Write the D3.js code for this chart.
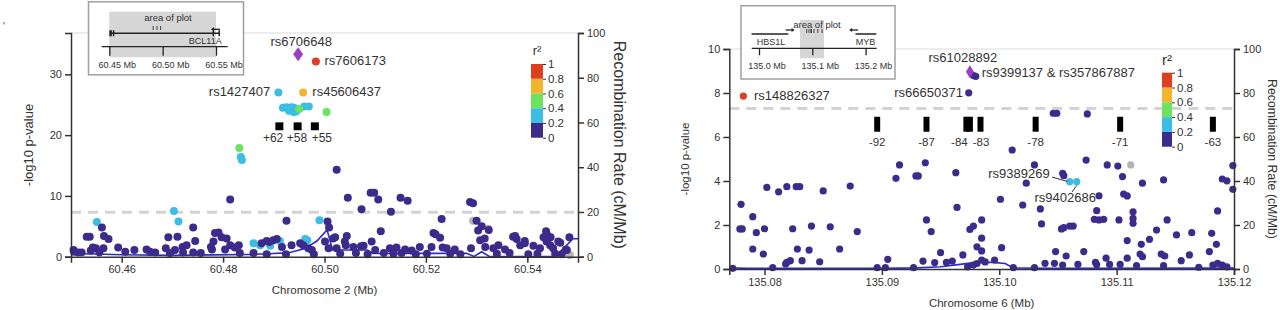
<!DOCTYPE html>
<html>
<head>
<meta charset="utf-8">
<script src="https://cdn.jsdelivr.net/npm/d3@7"></script>
<style>
body { margin: 0; background: #fff; }
text { font-family: "Liberation Sans", Arial, sans-serif; fill: #333; }
</style>
</head>
<body>
<svg id="chart" width="1280" height="310"></svg>
<script>
const FONT = '"Liberation Sans", Arial, sans-serif';
// r2 bins: 0 = <0.2, 1 = 0.2-0.4, 2 = 0.4-0.6, 3 = 0.6-0.8, 4 = 0.8-1, -1 = no LD info
const ldColors = ["#3d2b8c", "#3cbde4", "#6be35f", "#f3b530", "#dc3f22"];
const noLdColor = "#b3b3b3";
const leadColor = "#9a3fc6";
const legendTicks = ["0", "0.2", "0.4", "0.6", "0.8", "1"];

// ---- chromosome 2 (BCL11A) ----
const chr2Lead = [60.4948, 33.3];
const chr2Snps = [
  [60.4983, 32.1, 4], [60.4958, 27.0, 3], [60.4909, 27.0, 1],
  [60.4918, 24.5, 1], [60.4925, 24.6, 1], [60.4930, 24.0, 1], [60.4935, 24.6, 1],
  [60.4940, 24.5, 1], [60.4939, 23.8, 1], [60.4944, 23.9, 1], [60.4960, 24.7, 1],
  [60.4969, 24.7, 1], [60.4950, 24.3, 2], [60.5004, 23.8, 2],
  [60.4832, 17.9, 2], [60.4835, 16.4, 1], [60.4837, 15.9, 1],
  [60.4814, 9.4, 0], [60.4703, 7.5, 1], [60.4712, 5.8, 1], [60.4551, 5.7, 1],
  [60.4561, 4.8, 0], [60.4925, 5.9, 0], [60.4990, 6.0, 1],
  [60.4860, 2.2, 1], [60.4873, 1.9, 1], [60.4893, 1.8, 1], [60.4912, 2.6, 1],
  [60.4962, 2.9, 1], [60.4966, 2.7, 1],
  [60.5293, 5.9, -1], [60.5323, 4.6, -1], [60.5484, 0.3, -1],
  [60.4506, 0.8, 0], [60.4514, 0.7, 0], [60.4521, 0.7, 0], [60.4505, 1.1, 0],
  [60.4531, 3.3, 0], [60.4537, 3.3, 0], [60.4543, 1.5, 0], [60.4539, 1.0, 0],
  [60.4549, 1.4, 0], [60.4556, 0.7, 0], [60.4565, 3.4, 0], [60.4574, 2.9, 0],
  [60.4564, 1.4, 0], [60.4593, 1.5, 0], [60.4607, 0.8, 0], [60.4625, 1.1, 0],
  [60.4649, 1.2, 0], [60.4656, 0.8, 0], [60.4666, 0.7, 0], [60.4692, 3.2, 0],
  [60.4710, 3.3, 0], [60.4687, 1.4, 0], [60.4705, 1.1, 0], [60.4720, 1.6, 0],
  [60.4728, 1.9, 0], [60.4741, 4.8, 0], [60.4745, 2.6, 0], [60.4695, 0.6, 0],
  [60.4721, 0.7, 0], [60.4741, 0.7, 0], [60.4756, 0.6, 0], [60.4776, 1.6, 0],
  [60.4781, 2.5, 0], [60.4784, 3.9, 0], [60.4791, 4.0, 0], [60.4797, 3.2, 0],
  [60.4807, 3.0, 0], [60.4778, 1.2, 0], [60.4804, 1.2, 0], [60.4814, 1.9, 0],
  [60.4823, 1.5, 0], [60.4831, 1.9, 0], [60.4833, 0.6, 0], [60.4860, 0.6, 0],
  [60.4876, 2.2, 0], [60.4886, 2.6, 0], [60.4891, 2.4, 0], [60.4899, 2.7, 0],
  [60.4906, 2.9, 0], [60.4916, 1.6, 0], [60.4935, 1.9, 0], [60.4958, 1.9, 0],
  [60.4952, 2.2, 0], [60.4968, 1.4, 0], [60.4975, 1.1, 0], [60.4886, 0.4, 0],
  [60.4924, 0.4, 0], [60.4979, 0.4, 0],
  [60.5024, 14.3, 0], [60.5091, 10.5, 0], [60.5098, 10.5, 0], [60.5046, 9.7, 0],
  [60.5106, 9.4, 0], [60.5150, 9.7, 0], [60.5164, 9.2, 0], [60.5073, 7.8, 0],
  [60.5131, 7.4, 0], [60.5287, 9.0, 0], [60.5293, 8.8, 0], [60.5231, 6.2, 0],
  [60.5300, 5.9, 0], [60.5111, 4.2, 0], [60.5006, 5.8, 0], [60.5009, 4.8, 0],
  [60.5021, 3.2, 0], [60.5044, 3.4, 0], [60.5040, 2.5, 0], [60.5215, 3.9, 0],
  [60.5219, 3.7, 0], [60.5228, 3.1, 0], [60.5303, 4.3, 0], [60.5310, 5.0, 0],
  [60.5324, 4.4, 0], [60.5316, 3.0, 0], [60.5376, 3.4, 0], [60.5379, 2.9, 0],
  [60.5395, 2.6, 0], [60.5437, 4.2, 0], [60.5439, 3.6, 0], [60.5446, 3.2, 0],
  [60.5432, 3.2, 0], [60.5465, 2.3, 0], [60.5483, 3.2, 0], [60.5476, 1.2, 0],
  [60.5289, 1.4, 0], [60.5211, 1.6, 0], [60.5001, 2.5, 0], [60.5008, 1.4, 0],
  [60.5017, 3.0, 0], [60.5024, 1.4, 0], [60.5042, 1.9, 0], [60.5057, 1.6, 0],
  [60.5077, 1.8, 0], [60.5093, 2.5, 0], [60.5100, 1.1, 0], [60.5129, 1.4, 0],
  [60.5142, 1.5, 0], [60.5159, 1.2, 0], [60.5172, 1.0, 0], [60.5188, 1.6, 0],
  [60.5233, 1.5, 0], [60.5241, 1.4, 0], [60.5257, 1.2, 0], [60.5307, 2.7, 0],
  [60.5317, 1.6, 0], [60.5333, 1.4, 0], [60.5343, 1.9, 0], [60.5356, 1.2, 0],
  [60.5372, 3.3, 0], [60.5386, 1.9, 0], [60.5395, 2.2, 0], [60.5412, 1.8, 0],
  [60.5425, 1.4, 0], [60.5438, 2.5, 0], [60.5445, 1.9, 0], [60.5451, 1.4, 0],
  [60.5461, 2.5, 0], [60.5478, 1.1, 0], [60.5072, 1.7, 0],
  [60.5031, 0.5, 0], [60.5062, 0.6, 0], [60.5085, 0.4, 0], [60.5117, 0.6, 0],
  [60.5136, 0.5, 0], [60.5152, 0.6, 0], [60.5180, 0.4, 0], [60.5202, 0.5, 0],
  [60.5248, 0.5, 0], [60.5268, 0.4, 0], [60.5340, 0.5, 0], [60.5365, 0.6, 0],
  [60.5402, 0.4, 0], [60.5420, 0.5, 0], [60.5455, 0.5, 0], [60.5468, 0.4, 0]
];
const chr2Recomb = [
  [60.450, 1.3], [60.455, 1.2], [60.460, 0.9], [60.470, 0.6], [60.478, 0.8],
  [60.485, 1.0], [60.489, 1.3], [60.493, 1.8], [60.496, 3.5], [60.4985, 7],
  [60.5005, 12], [60.5016, 3], [60.5085, 3], [60.5095, 1.5], [60.528, 1.5],
  [60.5295, 0.1], [60.531, 2.2], [60.5325, 0.1], [60.5455, 0.1], [60.5475, 4.5],
  [60.549, 8], [60.550, 8]
];
// label text, anchor position (Mb), anchor -log10 p, text-anchor
const chr2Labels = [
  ["rs6706648", 60.4954, 34.65, "middle"],
  ["rs7606173", 60.5000, 31.5, "start"],
  ["rs1427407", 60.4893, 26.5, "end"],
  ["rs45606437", 60.4976, 26.5, "start"]
];
const chr2Enhancers = [[60.4911, "+62"], [60.4947, "+58"], [60.4981, "+55"]];

// ---- chromosome 6 (HBS1L-MYB) ----
const chr6Lead = [135.0975, 8.97];
const chr6Snps = [
  [135.0782, 7.86, 4], [135.0978, 8.79, 0], [135.0980, 8.76, 0], [135.0974, 8.01, 0],
  [135.1046, 7.08, 0], [135.1049, 7.08, 0], [135.1075, 7.05, 0], [135.1011, 5.41, 0],
  [135.1060, 3.97, 1], [135.1066, 3.97, 1], [135.1112, 4.73, -1],
  [135.0773, 0.03, 0], [135.0780, 2.94, 0], [135.0779, 1.82, 0], [135.0781, 1.82, 0],
  [135.0790, 2.38, 0], [135.0793, 1.65, 0], [135.0790, 0.91, 0], [135.0799, 0.68, 0],
  [135.0800, 1.83, 0], [135.0802, 3.71, 0], [135.0807, 0.06, 0], [135.0812, 3.51, 0],
  [135.0819, 3.74, 0], [135.0827, 3.74, 0], [135.0830, 3.74, 0], [135.0824, 1.83, 0],
  [135.0828, 0.91, 0], [135.0838, 0.86, 0], [135.0840, 1.95, 0], [135.0832, 0.38, 0],
  [135.0822, 0.38, 0], [135.0818, 0.23, 0], [135.0819, 0.30, 0], [135.0847, 0.33, 0],
  [135.0850, 3.55, 0], [135.0856, 1.92, 0], [135.0864, 0.91, 0], [135.0873, 3.77, 0],
  [135.0879, 1.70, 0], [135.0896, 0.06, 0], [135.0903, 0.06, 0], [135.0905, 0.44, 0],
  [135.0912, 4.12, 0], [135.0915, 4.73, 0], [135.0927, 0.06, 0], [135.0929, 4.23, 0],
  [135.0931, 4.23, 0], [135.0937, 4.83, 0], [135.0935, 0.36, 0], [135.0938, 2.23, 0],
  [135.0942, 1.70, 0], [135.0945, 0.29, 0], [135.0950, 0.74, 0], [135.0955, 0.30, 0],
  [135.0960, 0.36, 0], [135.0963, 4.38, 0], [135.0964, 2.80, 0], [135.0969, 0.64, 0],
  [135.0973, 0.10, 0], [135.0975, 1.80, 0], [135.0978, 1.95, 0], [135.0985, 2.23, 0],
  [135.0985, 1.40, 0], [135.0981, 1.01, 0], [135.0985, 0.82, 0], [135.0978, 0.18, 0],
  [135.0981, 0.25, 0], [135.0985, 0.41, 0], [135.0988, 0.32, 0], [135.0996, 0.41, 0],
  [135.1001, 3.17, 0], [135.1002, 0.97, 0], [135.1012, 0.06, 0], [135.1020, 2.91, 0],
  [135.1023, 3.90, 0], [135.1030, 4.73, 0], [135.1030, 0.06, 0], [135.1035, 2.73, 0],
  [135.1036, 2.05, 0], [135.1039, 0.26, 0], [135.1048, 0.79, 0], [135.1047, 0.26, 0],
  [135.1053, 1.82, 0], [135.1055, 1.88, 0], [135.1054, 4.35, 0], [135.1055, 4.24, 0],
  [135.1054, 0.18, 0], [135.1057, 0.59, 0], [135.1060, 1.95, 0], [135.1063, 1.95, 0],
  [135.1067, 0.21, 0], [135.1072, 0.79, 0], [135.1074, 4.95, 0], [135.1081, 2.26, 0],
  [135.1085, 2.23, 0], [135.1089, 2.26, 0], [135.1083, 2.65, 0], [135.1085, 3.33, 0],
  [135.1082, 0.30, 0], [135.1083, 0.20, 0], [135.1091, 0.49, 0], [135.1092, 4.73, 0],
  [135.1094, 0.21, 0], [135.1101, 4.68, 0], [135.1105, 4.20, 0], [135.1102, 2.23, 0],
  [135.1106, 3.41, 0], [135.1109, 3.32, 0], [135.1114, 2.60, 0], [135.1114, 2.30, 0],
  [135.1114, 2.08, 0], [135.1109, 1.29, 0], [135.1109, 0.49, 0], [135.1103, 0.21, 0],
  [135.1117, 0.15, 0], [135.1121, 1.12, 0], [135.1120, 0.68, 0], [135.1122, 0.56, 0],
  [135.1122, 3.90, 0], [135.1128, 1.35, 0], [135.1134, 1.77, 0], [135.1138, 0.68, 0],
  [135.1141, 0.59, 0], [135.1140, 0.15, 0], [135.1140, 4.05, 0], [135.1143, 2.23, 0],
  [135.1151, 1.55, 0], [135.1155, 0.38, 0], [135.1162, 0.64, 0], [135.1164, 1.65, 0],
  [135.1170, 0.08, 0], [135.1179, 0.79, 0], [135.1181, 1.62, 0], [135.1186, 2.64, 0],
  [135.1185, 1.12, 0], [135.1182, 0.18, 0], [135.1186, 0.26, 0], [135.1190, 0.18, 0],
  [135.1194, 0.10, 0], [135.1190, 4.09, 0], [135.1194, 4.01, 0], [135.1199, 3.62, 0],
  [135.1199, 4.70, 0]
];
const chr6Recomb = [
  [135.077, 0.6], [135.0785, 0.3], [135.090, 0.3], [135.093, 0.5], [135.095, 1.0],
  [135.0965, 2.0], [135.098, 3.0], [135.0995, 3.0], [135.1005, 2.5], [135.1012, 0.5],
  [135.105, 0.3], [135.120, 0.4]
];
const chr6Labels = [
  ["rs61028892", 135.0969, 9.41, "middle"],
  ["rs9399137 & rs357867887", 135.0985, 8.73, "start"],
  ["rs66650371", 135.0969, 7.82, "end"],
  ["rs148826327", 135.0791, 7.68, "start"],
  ["rs9389269", 135.1043, 4.14, "end"],
  ["rs9402686", 135.1030, 3.05, "start"]
];
// callout leader lines: from (Mb, -log10 p) to (Mb, -log10 p)
const chr6Leaders = [
  [[135.1045, 4.18], [135.1058, 3.98]],
  [[135.1066, 3.80], [135.1062, 3.50]]
];
const chr6Enhancers = [
  [135.0896, "-92"], [135.0938, "-87"], [135.0972, "-84"], [135.0975, ""],
  [135.0984, "-83"], [135.1031, "-78"], [135.1103, "-71"], [135.1182, "-63"]
];

const svg = d3.select("#chart");

function colorOf(bin) {
  return bin < 0 ? noLdColor : ldColors[bin];
}

function drawPanel(cfg) {
  const g = svg.append("g");
  const x = d3.scaleLinear().domain(cfg.xDomain).range([cfg.left, cfg.right]);
  const y = d3.scaleLinear().domain([0, cfg.yMax]).range([cfg.bottom, cfg.top]);
  const yr = d3.scaleLinear().domain([0, 100]).range([cfg.bottom, cfg.top]);

  // light top border
  g.append("line")
    .attr("x1", cfg.left).attr("x2", cfg.right)
    .attr("y1", cfg.top).attr("y2", cfg.top)
    .attr("stroke", "#dcdcdc").attr("stroke-width", 1.2);

  // genome-wide significance
  g.append("line")
    .attr("x1", cfg.left).attr("x2", cfg.right)
    .attr("y1", y(-Math.log10(5e-8))).attr("y2", y(-Math.log10(5e-8)))
    .attr("stroke", "#d3d3d3").attr("stroke-width", 3)
    .attr("stroke-dasharray", "10,7");

  // recombination rate
  const line = d3.line().x(d => x(d[0])).y(d => yr(d[1]));
  g.append("path")
    .datum(cfg.recomb)
    .attr("fill", "none")
    .attr("stroke", "#2c2cd0")
    .attr("stroke-width", 1.6)
    .attr("d", line);

  // enhancer blocks
  g.selectAll(".enh")
    .data(cfg.enhancers)
    .join("rect")
    .attr("x", d => x(d[0]) - cfg.enhW / 2)
    .attr("y", y(cfg.enhTop))
    .attr("width", cfg.enhW)
    .attr("height", y(cfg.enhBottom) - y(cfg.enhTop))
    .attr("fill", "#000");
  g.selectAll(".enhLabel")
    .data(cfg.enhancers)
    .join("text")
    .attr("x", (d, i) => x(d[0]) + (cfg.enhLabelDx[i] || 0))
    .attr("y", y(cfg.enhBottom) + cfg.enhLabelDy)
    .attr("text-anchor", "middle")
    .style("font-size", cfg.enhFont)
    .text(d => d[1]);

  // snps
  g.selectAll(".snp")
    .data(cfg.snps)
    .join("circle")
    .attr("cx", d => x(d[0]))
    .attr("cy", d => y(d[1]))
    .attr("r", cfg.r)
    .attr("fill", d => colorOf(d[2]));

  // lead snp diamond
  const lx = x(cfg.lead[0]), ly = y(cfg.lead[1]), dw = cfg.diamond[0], dh = cfg.diamond[1];
  g.append("path")
    .attr("d", `M${lx},${ly - dh}L${lx + dw},${ly}L${lx},${ly + dh}L${lx - dw},${ly}Z`)
    .attr("fill", leadColor);

  // snp labels
  g.selectAll(".lab")
    .data(cfg.labels)
    .join("text")
    .attr("x", d => x(d[1]))
    .attr("y", d => y(d[2]))
    .attr("text-anchor", d => d[3])
    .style("font-size", "13px")
    .text(d => d[0]);

  (cfg.leaders || []).forEach(l => {
    g.append("line")
      .attr("x1", x(l[0][0])).attr("y1", y(l[0][1]))
      .attr("x2", x(l[1][0])).attr("y2", y(l[1][1]))
      .attr("stroke", "#333").attr("stroke-width", 1);
  });

  // axes
  const axisStyle = sel => {
    sel.selectAll("path,line").attr("stroke", "#333").attr("stroke-width", 1.5);
    sel.selectAll("text").style("font-size", "11px").attr("fill", "#333")
      .style("font-family", FONT);
  };
  g.append("g")
    .attr("transform", `translate(0,${cfg.bottom})`)
    .call(d3.axisBottom(x).tickValues(cfg.xTicks).tickFormat(d3.format(".2f")).tickSize(6))
    .call(axisStyle);
  g.append("g")
    .attr("transform", `translate(${cfg.left},0)`)
    .call(d3.axisLeft(y).tickValues(cfg.yTicks).tickSize(6))
    .call(axisStyle);
  g.append("g")
    .attr("transform", `translate(${cfg.right},0)`)
    .call(d3.axisRight(yr).tickValues([0, 20, 40, 60, 80, 100]).tickSize(6))
    .call(axisStyle);

  // axis titles
  g.append("text")
    .attr("x", (cfg.left + cfg.right) / 2)
    .attr("y", cfg.bottom + 37.5)
    .attr("text-anchor", "middle")
    .style("font-size", "11.5px")
    .text(cfg.xTitle);
  g.append("text")
    .attr("transform", `translate(${cfg.yTitleX},${cfg.yTitleY}) rotate(-90)`)
    .attr("text-anchor", "middle")
    .style("font-size", cfg.yTitleSize)
    .text("-log10 p-value");
  g.append("text")
    .attr("transform", `translate(${cfg.rTitleX},${(cfg.top + cfg.bottom) / 2}) rotate(90)`)
    .attr("text-anchor", "middle")
    .style("font-size", cfg.rTitleSize)
    .text("Recombination Rate (cM/Mb)");

  // r2 legend
  const lg = g.append("g");
  const ly2 = d3.scaleLinear().domain([0, 1]).range([cfg.legend.y1, cfg.legend.y0]);
  lg.selectAll("rect")
    .data(ldColors)
    .join("rect")
    .attr("x", cfg.legend.x)
    .attr("y", (d, i) => ly2((i + 1) * 0.2))
    .attr("width", cfg.legend.w)
    .attr("height", (d, i) => ly2(i * 0.2) - ly2((i + 1) * 0.2))
    .attr("fill", d => d);
  lg.append("g")
    .attr("transform", `translate(${cfg.legend.x + cfg.legend.w},0)`)
    .call(d3.axisRight(ly2).tickValues([0, 0.2, 0.4, 0.6, 0.8, 1])
      .tickFormat((d, i) => legendTicks[i]).tickSize(3).tickPadding(2))
    .call(sel => {
      sel.select(".domain").remove();
      sel.selectAll("line").attr("stroke", "#333");
      sel.selectAll("text").style("font-size", "11.5px").attr("fill", "#333")
        .style("font-family", FONT);
    });
  lg.append("text")
    .attr("x", cfg.legend.x + cfg.legend.w / 2)
    .attr("y", cfg.legend.y0 - cfg.legend.titleDy)
    .attr("text-anchor", "middle")
    .style("font-size", cfg.legend.titleSize)
    .text("r²");
}

drawPanel({
  xDomain: [60.45, 60.55], left: 71, right: 578, top: 33, bottom: 256.7,
  yMax: 36.8, xTicks: [60.46, 60.48, 60.50, 60.52, 60.54], yTicks: [0, 10, 20, 30],
  snps: chr2Snps, lead: chr2Lead, recomb: chr2Recomb, labels: chr2Labels,
  enhancers: chr2Enhancers, enhW: 8, enhTop: 22.1, enhBottom: 20.8, r: 4,
  enhLabelDy: 12, enhLabelDx: [-6.3, -0.7, 7], enhFont: "12px", diamond: [5, 7],
  xTitle: "Chromosome 2 (Mb)",
  yTitleX: 33, yTitleY: 145, yTitleSize: "13px",
  rTitleX: 614, rTitleSize: "16px",
  legend: { x: 531, w: 12, y0: 64, y1: 137.7, titleSize: "13px", titleDy: 9 }
});

drawPanel({
  xDomain: [135.077, 135.12], left: 729.3, right: 1234, top: 49, bottom: 269,
  yMax: 10, xTicks: [135.08, 135.09, 135.10, 135.11, 135.12], yTicks: [0, 2, 4, 6, 8, 10],
  snps: chr6Snps, lead: chr6Lead, recomb: chr6Recomb, labels: chr6Labels,
  leaders: chr6Leaders,
  enhancers: chr6Enhancers, enhW: 6, enhTop: 6.92, enhBottom: 6.24, r: 3.6,
  enhLabelDy: 14, enhLabelDx: [0, 0, -7, 0, 0.5, 0, 0, 0], enhFont: "11.5px", diamond: [4, 6.5],
  xTitle: "Chromosome 6 (Mb)",
  yTitleX: 689, yTitleY: 159, yTitleSize: "11.5px",
  rTitleX: 1268, rTitleSize: "12.3px",
  legend: { x: 1162, w: 10, y0: 72.7, y1: 146.7, titleSize: "15px", titleDy: 8 }
});

// ---- gene insets ----
function drawInset(cfg) {
  const g = svg.append("g");
  const s = d3.scaleLinear().domain(cfg.domain).range(cfg.range);
  g.append("rect")
    .attr("x", cfg.box[0]).attr("y", cfg.box[1])
    .attr("width", cfg.box[2]).attr("height", cfg.box[3])
    .attr("fill", "#fff").attr("stroke", "#a0a0a0").attr("stroke-width", 1.5);
  g.append("rect")
    .attr("x", s(cfg.area[0])).attr("y", cfg.areaY[0])
    .attr("width", s(cfg.area[1]) - s(cfg.area[0]))
    .attr("height", cfg.areaY[1] - cfg.areaY[0])
    .attr("fill", "#d6d6d6");
  g.append("text")
    .attr("x", cfg.areaLabelX).attr("y", cfg.areaLabelY)
    .attr("text-anchor", "middle")
    .style("font-size", "9.5px")
    .text("area of plot");
  cfg.genes.forEach(gene => {
    g.append("line")
      .attr("x1", s(gene.start)).attr("x2", s(gene.end))
      .attr("y1", cfg.geneY).attr("y2", cfg.geneY)
      .attr("stroke", "#222").attr("stroke-width", 1.5);
    gene.exons.forEach(e => {
      g.append("line")
        .attr("x1", s(e)).attr("x2", s(e))
        .attr("y1", cfg.geneY - 3).attr("y2", cfg.geneY + 3)
        .attr("stroke", "#222").attr("stroke-width", 1.5);
    });
    const ax = s(gene.tss), dir = gene.strand;
    g.append("path")
      .attr("d", `M${ax},${cfg.geneY - 4}L${ax + dir * 7},${cfg.geneY - 4}`)
      .attr("stroke", "#222").attr("stroke-width", 1.3);
    g.append("path")
      .attr("d", `M${ax + dir * 9},${cfg.geneY - 4}L${ax + dir * 6},${cfg.geneY - 6}L${ax + dir * 6},${cfg.geneY - 2}Z`)
      .attr("fill", "#222");
    g.append("text")
      .attr("x", s(gene.labelAt)).attr("y", cfg.geneY + 10.5)
      .attr("text-anchor", gene.anchor)
      .style("font-size", "9px")
      .text(gene.name);
  });
  cfg.marks.forEach(m => {
    g.append("line")
      .attr("x1", s(m)).attr("x2", s(m))
      .attr("y1", cfg.markY[0]).attr("y2", cfg.markY[1])
      .attr("stroke", "#444").attr("stroke-width", 1);
  });
  const ax = g.append("g")
    .attr("transform", `translate(0,${cfg.axisY})`)
    .call(d3.axisBottom(s).tickValues(cfg.ticks).tickFormat(d3.format(cfg.fmt))
      .tickSize(cfg.tickSize).tickSizeOuter(0).tickPadding(cfg.tickPad));
  ax.select(".domain").attr("d", `M${cfg.axisX[0]},0H${cfg.axisX[1]}`)
    .attr("stroke", "#222").attr("stroke-width", 1.3);
  ax.selectAll("line").attr("stroke", "#222").attr("stroke-width", 1.3);
  // the number sits centred on its tick, " Mb" trails after it
  ax.selectAll("text").style("font-size", "9px").attr("fill", "#333")
    .style("font-family", FONT)
    .each(function () {
      const t = d3.select(this);
      const w = this.getComputedTextLength();
      t.attr("text-anchor", "start").attr("x", -w / 2).text(t.text() + " Mb");
    });
}

drawInset({
  domain: [60.45, 60.55], range: [109.3, 216],
  box: [88.5, 1.8, 155, 73], area: [60.45, 60.55], areaY: [11.7, 57.3],
  areaLabelX: 168, areaLabelY: 21,
  geneY: 33.3, axisY: 46.7, axisX: [101.7, 227.7], tickSize: 9, tickPad: 6,
  ticks: [60.45, 60.50, 60.55], fmt: ".2f",
  genes: [{ name: "BCL11A", start: 60.4507, end: 60.5537, tss: 60.5537, strand: -1,
    exons: [60.4507, 60.4517, 60.4540, 60.5475, 60.5530], labelAt: 60.5553, anchor: "end" }],
  marks: [60.4911, 60.4947, 60.4981], markY: [26, 30]
});

drawInset({
  domain: [135.0, 135.2], range: [759, 865.6],
  box: [741, 5.7, 154, 73.3], area: [135.077, 135.122], areaY: [20, 58.3],
  areaLabelX: 817, areaLabelY: 28,
  geneY: 34, axisY: 48.3, axisX: [751.7, 876.7], tickSize: 7, tickPad: 7,
  ticks: [135.0, 135.1, 135.2], fmt: ".1f",
  genes: [
    { name: "HBS1L", start: 134.986, end: 135.055, tss: 135.050, strand: 1,
      exons: [], labelAt: 134.996, anchor: "start" },
    { name: "MYB", start: 135.181, end: 135.220, tss: 135.186, strand: -1,
      exons: [], labelAt: 135.2, anchor: "middle" }
  ],
  marks: [135.0896, 135.0938, 135.0973, 135.0984, 135.1031, 135.1103, 135.1182], markY: [29, 33]
});

svg.append("text").attr("x", 3).attr("y", 30).style("font-size", "10px").attr("fill", "#999").text("'");
</script>
</body>
</html>
